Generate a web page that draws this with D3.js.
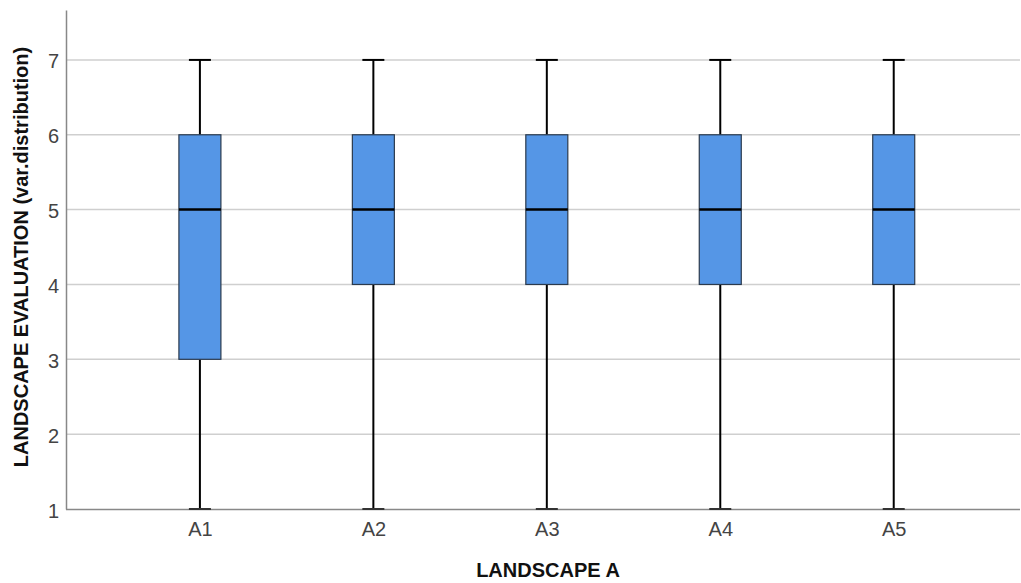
<!DOCTYPE html>
<html><head><meta charset="utf-8">
<script src="https://cdn.jsdelivr.net/npm/d3@7"></script>
<style>body{margin:0;background:#fff;}svg{display:block;}</style>
</head><body>
<svg id="c" width="1021" height="583"></svg>
<script>
const categories = ["A1","A2","A3","A4","A5"];
const mins    = [1,1,1,1,1];
const q1s     = [3,4,4,4,4];
const medians = [5,5,5,5,5];
const q3s     = [6,6,6,6,6];
const maxs    = [7,7,7,7,7];
const yTicks  = [1,2,3,4,5,6,7];

const FONT = "Arial, 'Liberation Sans', sans-serif";
const svg = d3.select("#c");
const L = 66, R = 1020, T = 10, B = 509;
const step = (R - L) / 5.5;
const x = d3.scalePoint().domain(categories).range([L + step*0.772, L + step*0.772 + 4*step]);
const y = d3.scaleLinear().domain([1, 7.667]).range([B, T]);

// grid
svg.append("g").selectAll("line").data(yTicks.slice(1)).join("line")
  .attr("x1", L).attr("x2", R).attr("y1", d=>y(d)).attr("y2", d=>y(d))
  .attr("stroke", "#cfcfcf").attr("stroke-width", 1.5);

// y axis
const ya = svg.append("g").attr("transform", `translate(${L},0)`)
  .call(d3.axisLeft(y).tickValues(yTicks).tickSize(0).tickPadding(7).tickFormat(d3.format("d")));
ya.select(".domain").attr("stroke", "#888").attr("stroke-width", 1.5);
ya.selectAll("text").attr("font-family", FONT).attr("font-size", 20).attr("fill", "#444").attr("dy", "0.4em");

// x axis
const xa = svg.append("g").attr("transform", `translate(0,${B})`)
  .call(d3.axisBottom(x).tickSize(0).tickPadding(13));
xa.select(".domain").attr("d", `M${L},0.5H${R}`).attr("stroke", "#888").attr("stroke-width", 1.5);
xa.selectAll("text").attr("font-family", FONT).attr("font-size", 20).attr("fill", "#444");

const data = categories.map((c,i)=>({c, min:mins[i], q1:q1s[i], med:medians[i], q3:q3s[i], max:maxs[i]}));
const bw = 42, cw = 22;
const g = svg.append("g").selectAll("g").data(data).join("g");
// whiskers
g.append("line").attr("x1", d=>x(d.c)).attr("x2", d=>x(d.c))
  .attr("y1", d=>y(d.max)).attr("y2", d=>y(d.q3)).attr("stroke", "#000").attr("stroke-width", 2);
g.append("line").attr("x1", d=>x(d.c)).attr("x2", d=>x(d.c))
  .attr("y1", d=>y(d.q1)).attr("y2", d=>y(d.min)).attr("stroke", "#000").attr("stroke-width", 2);
// caps
g.append("line").attr("x1", d=>x(d.c)-cw/2).attr("x2", d=>x(d.c)+cw/2)
  .attr("y1", d=>y(d.max)).attr("y2", d=>y(d.max)).attr("stroke", "#000").attr("stroke-width", 2);
g.append("line").attr("x1", d=>x(d.c)-cw/2).attr("x2", d=>x(d.c)+cw/2)
  .attr("y1", d=>y(d.min)).attr("y2", d=>y(d.min)).attr("stroke", "#333").attr("stroke-width", 2);
// boxes
g.append("rect").attr("x", d=>x(d.c)-bw/2).attr("width", bw)
  .attr("y", d=>y(d.q3)).attr("height", d=>y(d.q1)-y(d.q3))
  .attr("fill", "#5596e6").attr("stroke", "#2b3a4d").attr("stroke-width", 1.2);
// medians
g.append("line").attr("x1", d=>x(d.c)-bw/2).attr("x2", d=>x(d.c)+bw/2)
  .attr("y1", d=>y(d.med)).attr("y2", d=>y(d.med)).attr("stroke", "#000").attr("stroke-width", 2.5);

// titles
svg.append("text").attr("x", 548).attr("y", 577).attr("text-anchor", "middle")
  .attr("font-family", FONT).attr("font-weight", "bold").attr("font-size", 20).attr("fill", "#111")
  .text("LANDSCAPE A");
svg.append("text").attr("transform", "translate(28,257) rotate(-90)").attr("text-anchor", "middle")
  .attr("font-family", FONT).attr("font-weight", "bold").attr("font-size", 20).attr("fill", "#111")
  .text("LANDSCAPE EVALUATION (var.distribution)");
</script>
</body></html>
